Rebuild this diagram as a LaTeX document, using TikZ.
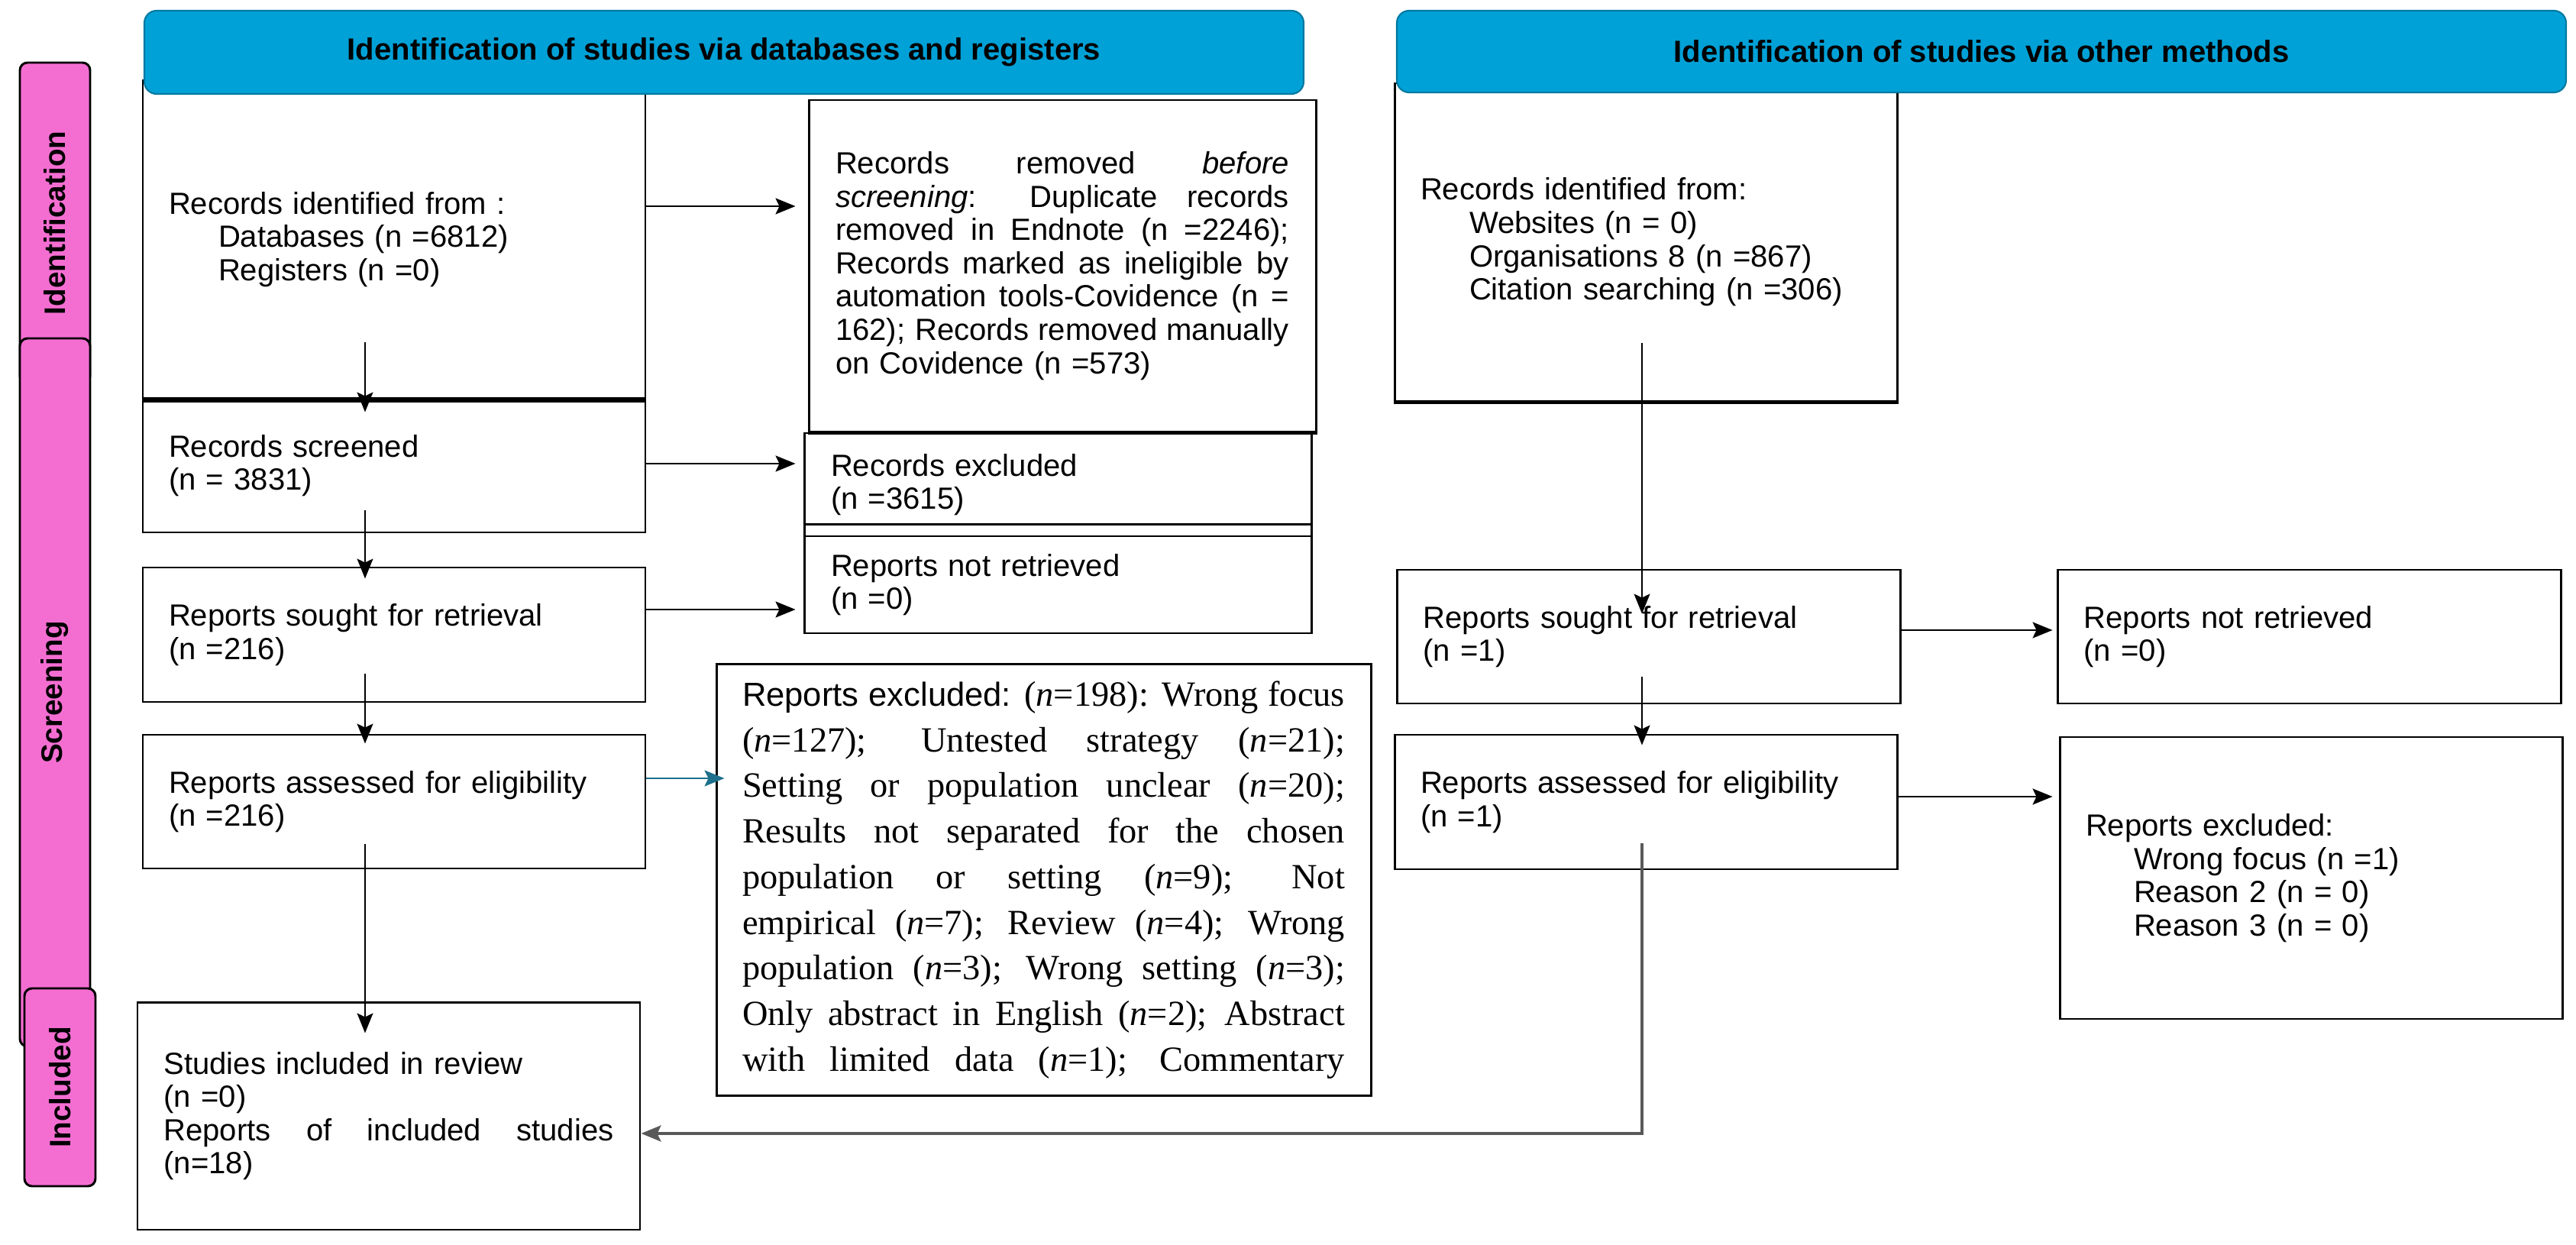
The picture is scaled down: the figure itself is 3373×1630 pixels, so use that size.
\documentclass[tikz,border=0pt]{standalone}
\usepackage{fontspec}
\setmainfont{Liberation Sans}
\newfontfamily\cambriafont{Liberation Serif}
\usetikzlibrary{arrows.meta,calc}
\definecolor{hdrblue}{RGB}{0,161,215}
\definecolor{phasepink}{RGB}{244,110,210}
\definecolor{linkteal}{RGB}{30,112,140}
% one justified line of fixed width
\newcommand{\jline}[2]{\makebox[#1][s]{\spaceskip=0pt\relax\xspaceskip=0pt\relax #2}}

\begin{document}
\begin{tikzpicture}[x=0.1mm,y=-0.1mm,
  every node/.style={font=\fontsize{11.4}{12.4}\selectfont},
  flowbox/.style={draw,line width=0.85pt,fill=white,inner xsep=0pt,inner ysep=0pt,align=left},
  header/.style={draw=hdrblue!75!black,line width=0.6pt,fill=hdrblue,rounded corners=1.6mm,font=\fontsize{11.4}{12.4}\selectfont\bfseries},
  phase/.style={draw,line width=0.85pt,fill=phasepink,rounded corners=1mm,rotate=90,minimum height=9.2mm,font=\fontsize{11}{12}\selectfont\bfseries},
  arr/.style={-{Stealth[length=2.6mm,width=2.1mm,inset=0.5mm]},line width=0.7pt,shorten >=1mm}]
  \useasboundingbox (0,0) rectangle (3373,1630);

  % phase bars on the left
  \node[phase,minimum width=42mm] (phId) at (72,292) {Identification};
  \node[phase,minimum width=92.7mm] (phScr) at (72,906.5) {Screening};
  \node[phase,minimum width=25.9mm,minimum height=9.3mm] (phInc) at (78.5,1423.5) {Included};

  % databases and registers
  \node[flowbox,minimum width=65.8mm,minimum height=41.7mm,text width=59mm] (recid) at (516,313.5) {Records identified from :\\ \hspace*{6.5mm}Databases (n =6812)\\ \hspace*{6.5mm}Registers (n =0)};
  \node[flowbox,minimum width=65.8mm,minimum height=17.5mm,text width=59mm] (recscr) at (516,609.5) {Records screened\\ (n = 3831)};
  \node[flowbox,minimum width=65.8mm,minimum height=17.6mm,text width=59mm] (sought) at (516,831) {Reports sought for retrieval\\ (n =216)};
  \node[flowbox,minimum width=65.8mm,minimum height=17.5mm,text width=59mm] (assessed) at (516,1049.5) {Reports assessed for eligibility\\ (n =216)};
  \node[flowbox,minimum width=65.8mm,minimum height=29.8mm,text width=58.9mm] (studies) at (509,1461) {Studies included in review\\ (n =0)\\ \jline{58.9mm}{Reports of included studies}\\ (n=18)};

  \node[flowbox,minimum width=66.4mm,minimum height=43.4mm,text width=59.4mm] (removed) at (1391,348) {\jline{59.4mm}{Records removed \textit{before}}\\ \jline{59.4mm}{\textit{screening}: Duplicate records}\\ \jline{59.4mm}{removed in Endnote (n =2246);}\\ \jline{59.4mm}{Records marked as ineligible by}\\ \jline{59.4mm}{automation tools-Covidence (n =}\\ \jline{59.4mm}{162); Records removed manually}\\ on Covidence (n =573)};
  \node[flowbox,minimum width=66.4mm,minimum height=13.5mm,text width=59.4mm] (recexcl) at (1385,634.5) {Records excluded\\ (n =3615)};
  \node[flowbox,minimum width=66.4mm,minimum height=12.7mm,text width=59.4mm] (notret) at (1385,765.5) {Reports not retrieved\\ (n =0)};
  \node[flowbox,minimum width=85.7mm,minimum height=56.5mm,text width=78.9mm,font=\cambriafont\fontsize{13.2}{17}\selectfont] (bigexcl) at (1366.5,1152) {\jline{78.9mm}{{\fontspec{Liberation Sans}\fontsize{12.4}{17}\selectfont Reports excluded:} (\textit{n}=198): Wrong focus}\\ \jline{78.9mm}{(\textit{n}=127); Untested strategy (\textit{n}=21);}\\ \jline{78.9mm}{Setting or population unclear (\textit{n}=20);}\\ \jline{78.9mm}{Results not separated for the chosen}\\ \jline{78.9mm}{population or setting (\textit{n}=9); Not}\\ \jline{78.9mm}{empirical (\textit{n}=7); Review (\textit{n}=4); Wrong}\\ \jline{78.9mm}{population (\textit{n}=3); Wrong setting (\textit{n}=3);}\\ \jline{78.9mm}{Only abstract in English (\textit{n}=2); Abstract}\\ \jline{78.9mm}{with limited data (\textit{n}=1); Commentary}};
  \draw[line width=1.8pt] (recid.south west) -- (recid.south east);
  \draw[line width=1.4pt] (removed.south west) -- (removed.south east);
  \draw[line width=0.85pt] ([yshift=1.7mm]recexcl.south west) -- ([yshift=1.7mm]recexcl.south east);

  % other methods
  \node[flowbox,minimum width=65.8mm,minimum height=41.6mm,text width=59mm] (rrecid) at (2155,317) {Records identified from:\\ \hspace*{6.4mm}Websites (n = 0)\\ \hspace*{6.4mm}Organisations 8 (n =867)\\ \hspace*{6.4mm}Citation searching (n =306)};
  \node[flowbox,minimum width=65.9mm,minimum height=17.5mm,text width=59mm] (rsought) at (2158.5,833.5) {Reports sought for retrieval\\ (n =1)};
  \node[flowbox,minimum width=65.9mm,minimum height=17.5mm,text width=59mm] (rnotret) at (3023.5,833.5) {Reports not retrieved\\ (n =0)};
  \node[flowbox,minimum width=65.8mm,minimum height=17.6mm,text width=59mm] (rassessed) at (2155,1050) {Reports assessed for eligibility\\ (n =1)};
  \node[flowbox,minimum width=65.8mm,minimum height=36.9mm,text width=59mm] (rexcl) at (3026,1149.5) {Reports excluded:\\ \hspace*{6.3mm}Wrong focus (n =1)\\ \hspace*{6.3mm}Reason 2 (n = 0)\\ \hspace*{6.3mm}Reason 3 (n = 0)};
  \draw[line width=1.2pt] (rrecid.south west) -- (rrecid.south east);

  % headers
  \node[header,minimum width=151.8mm,minimum height=10.9mm] (hdrL) at (948,68.5) {Identification of studies via databases and registers};
  \node[header,minimum width=153.1mm,minimum height=10.7mm] (hdrR) at (2594.5,67.5) {Identification of studies via other methods};

  % connectors
  \coordinate (lx) at (478,0);
  \coordinate (rx) at (2150,0);
  \coordinate (h1) at (0,270);
  \coordinate (h2) at (0,607);
  \coordinate (h3) at (0,798);
  \coordinate (h4) at (0,1019);
  \coordinate (h5) at (0,825);
  \coordinate (h6) at (0,1043);
  \coordinate (h7) at (0,1484);
  \draw[arr,shorten >=0pt,line width=0.5pt] ($(recid.south -| lx)+(0,-75)$) -- ($(recscr.north -| lx)+(0,19)$);
  \draw[arr,shorten >=0pt,line width=0.5pt] ($(recscr.south -| lx)+(0,-30)$) -- ($(sought.north -| lx)+(0,16)$);
  \draw[arr,shorten >=0pt,line width=0.5pt] ($(sought.south -| lx)+(0,-38)$) -- ($(assessed.north -| lx)+(0,13)$);
  \draw[arr,shorten >=0pt,line width=0.5pt] ($(assessed.south -| lx)+(0,-33)$) -- ($(studies.north -| lx)+(0,42)$);
  \draw[arr,shorten >=1.6mm] (recid.east |- h1) -- (removed.west |- h1);
  \draw[arr] (recscr.east |- h2) -- (recexcl.west |- h2);
  \draw[arr] (sought.east |- h3) -- (notret.west |- h3);
  \draw[arr,linkteal,shorten >=-1.2mm] (assessed.east |- h4) -- (bigexcl.west |- h4);
  \draw[arr,shorten >=0pt,line width=0.5pt] ($(rrecid.south -| rx)+(0,-77)$) -- ($(rsought.north -| rx)+(0,59)$);
  \draw[arr,shorten >=0pt,line width=0.5pt] ($(rsought.south -| rx)+(0,-36)$) -- ($(rassessed.north -| rx)+(0,15)$);
  \draw[arr,shorten >=0.5mm] (rsought.east |- h5) -- (rnotret.west |- h5);
  \draw[arr,shorten >=0.8mm] (rassessed.east |- h6) -- (rexcl.west |- h6);
  \draw[arr,draw=black!65,line width=1.1pt,shorten >=0pt] ($(rassessed.south -| rx)+(0,-35)$) |- (studies.east |- h7);
\end{tikzpicture}
\end{document}
